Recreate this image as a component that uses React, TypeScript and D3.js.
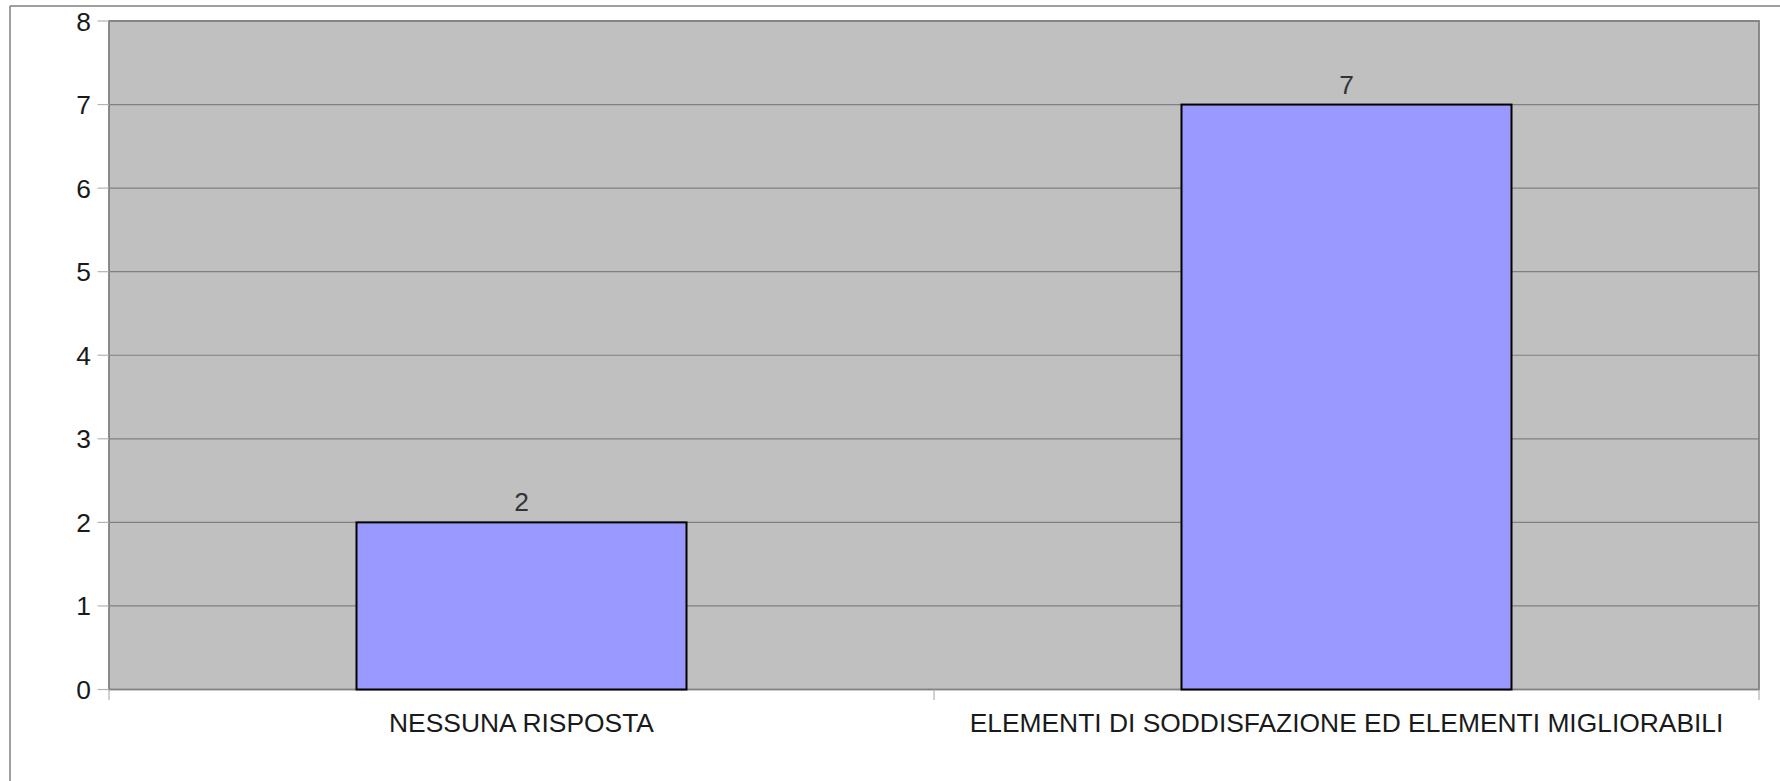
import React from "react";
import * as d3 from "d3";

const categories: string[] = [
  "NESSUNA RISPOSTA",
  "ELEMENTI DI SODDISFAZIONE ED ELEMENTI MIGLIORABILI",
];
const values: number[] = [2, 7];
const yTicks: number[] = [0, 1, 2, 3, 4, 5, 6, 7, 8];

const W = 1780;
const H = 781;
const plot = { left: 109, right: 1759, top: 21, bottom: 689.5 };
const FONT = "'Liberation Sans', Arial, sans-serif";

export default function App() {
  const x = d3
    .scaleBand<string>()
    .domain(categories)
    .range([plot.left, plot.right])
    .paddingInner(0)
    .paddingOuter(0);
  const y = d3.scaleLinear().domain([0, 8]).range([plot.bottom, plot.top]);
  const bw = x.bandwidth() * 0.4;
  const edges = [plot.left, ...categories.map((c) => (x(c) as number) + x.bandwidth())];

  return (
    <svg
      width={W}
      height={H}
      style={{ position: "fixed", left: 0, top: 0, background: "#fff" }}
      fontFamily={FONT}
    >
      <rect x={0} y={0} width={W} height={H} fill="#fff" />
      {/* outer frame */}
      <line x1={10} y1={6} x2={W + 5} y2={6} stroke="#7f7f7f" strokeWidth={1.5} />
      <line x1={10} y1={6} x2={10} y2={H + 5} stroke="#7f7f7f" strokeWidth={1.5} />

      {/* plot background */}
      <rect
        x={plot.left}
        y={plot.top}
        width={plot.right - plot.left}
        height={plot.bottom - plot.top}
        fill="#c0c0c0"
      />
      {/* gridlines */}
      {yTicks.map((t) => (
        <line
          key={"g" + t}
          x1={plot.left}
          x2={plot.right}
          y1={y(t)}
          y2={y(t)}
          stroke="#808080"
          strokeWidth={1.2}
        />
      ))}
      {/* plot border */}
      <rect
        x={plot.left}
        y={plot.top}
        width={plot.right - plot.left}
        height={plot.bottom - plot.top}
        fill="none"
        stroke="#808080"
        strokeWidth={1.8}
      />
      {/* y ticks and labels */}
      {yTicks.map((t) => (
        <g key={"y" + t}>
          <line x1={97.5} x2={plot.left} y1={y(t)} y2={y(t)} stroke="#b3b3b3" strokeWidth={1.2} />
          <text
            x={91}
            y={y(t)}
            dy="0.36em"
            textAnchor="end"
            fontSize={26.4}
            fill="#1a1a1a"
          >
            {t}
          </text>
        </g>
      ))}
      {/* x ticks */}
      {edges.map((e, i) => (
        <line key={"xt" + i} x1={e} x2={e} y1={plot.bottom} y2={700} stroke="#b3b3b3" strokeWidth={1.2} />
      ))}
      {/* bars */}
      {categories.map((c, i) => {
        const cx = (x(c) as number) + x.bandwidth() / 2;
        return (
          <g key={"b" + i}>
            <rect
              x={cx - bw / 2}
              y={y(values[i])}
              width={bw}
              height={y(0) - y(values[i])}
              fill="#9999ff"
              stroke="#000"
              strokeWidth={2}
            />
            <text
              x={cx}
              y={y(values[i]) - 11}
              textAnchor="middle"
              fontSize={26.4}
              fill="#333333"
            >
              {values[i]}
            </text>
            <text x={cx} y={731.5} textAnchor="middle" fontSize={26.4} fill="#1a1a1a">
              {c}
            </text>
          </g>
        );
      })}
    </svg>
  );
}
